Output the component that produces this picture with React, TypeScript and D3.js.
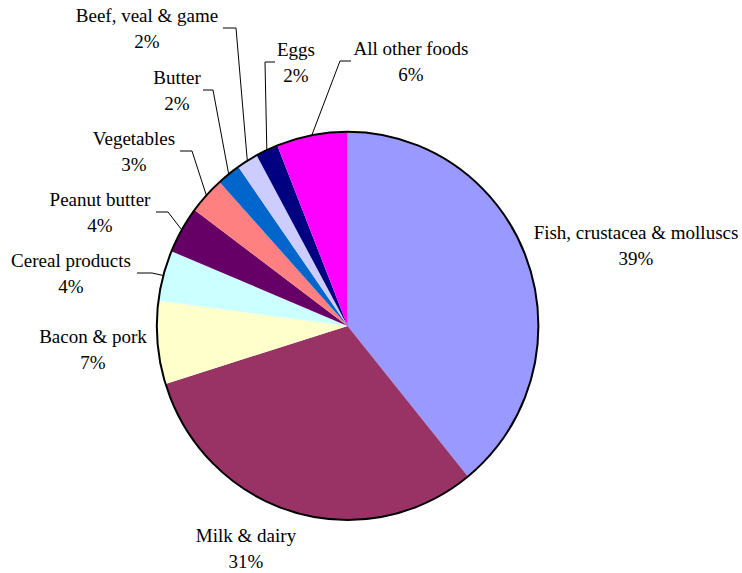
import React, { useEffect, useRef } from "react";
import * as d3 from "d3";

const categories = [
  "Fish, crustacea & molluscs",
  "Milk & dairy",
  "Bacon & pork",
  "Cereal products",
  "Peanut butter",
  "Vegetables",
  "Butter",
  "Beef, veal & game",
  "Eggs",
  "All other foods",
];
const values = [39.1, 31.0, 6.9, 4.2, 3.9, 3.1, 2.0, 1.8, 1.9, 6.0];
const colors = [
  "#9999FF",
  "#993366",
  "#FFFFCC",
  "#CCFFFF",
  "#660066",
  "#FF8080",
  "#0066CC",
  "#CCCCFF",
  "#000080",
  "#FF00FF",
];

// label layout: center x, first-line baseline y, leader horizontal start x and elbow x (null = no leader)
const labelLayout: { x: number; y: number; hx: number | null; ex: number | null }[] = [
  { x: 636, y: 239, hx: null, ex: null },
  { x: 246, y: 542, hx: null, ex: null },
  { x: 93, y: 343, hx: null, ex: null },
  { x: 71, y: 267, hx: 137, ex: 152 },
  { x: 100, y: 206, hx: 156, ex: 168 },
  { x: 134, y: 145, hx: 180, ex: 192 },
  { x: 177, y: 84, hx: 203, ex: 213 },
  { x: 147, y: 22, hx: 223, ex: 236 },
  { x: 296, y: 56, hx: 275, ex: 265 },
  { x: 411, y: 55, hx: 351, ex: 340 },
];

const W = 742;
const H = 573;
const cx = 347.6;
const cy = 325.9;
const rx = 190.8;
const ry = 194.1;

export default function App() {
  const ref = useRef<SVGSVGElement | null>(null);

  useEffect(() => {
    const svg = d3.select(ref.current);
    svg.selectAll("*").remove();
    const total = d3.sum(values);
    const pie = d3
      .pie<number>()
      .sort(null)
      .value((d) => d)
      .startAngle(0)
      .endAngle(2 * Math.PI);
    const arcs = pie(values);
    const arc = d3.arc<d3.PieArcDatum<number>>().innerRadius(0).outerRadius(rx);

    svg
      .append("g")
      .attr("transform", `translate(${cx},${cy}) scale(1,${ry / rx})`)
      .selectAll("path")
      .data(arcs)
      .join("path")
      .attr("d", (d) => arc(d) || "")
      .attr("fill", (_, i) => colors[i]);

    svg
      .append("ellipse")
      .attr("cx", cx)
      .attr("cy", cy)
      .attr("rx", rx)
      .attr("ry", ry)
      .attr("fill", "none")
      .attr("stroke", "#000")
      .attr("stroke-width", 2);

    const lineGen = d3.line();
    arcs.forEach((a, i) => {
      const L = labelLayout[i];
      if (L.hx === null || L.ex === null) return;
      const mid = (a.startAngle + a.endAngle) / 2;
      const px = cx + rx * Math.sin(mid);
      const py = cy - ry * Math.cos(mid);
      const ly = L.y + 6;
      svg
        .append("path")
        .attr(
          "d",
          lineGen([
            [L.hx, ly],
            [L.ex, ly],
            [px, py],
          ]) || ""
        )
        .attr("fill", "none")
        .attr("stroke", "#000")
        .attr("stroke-width", 1);
    });

    categories.forEach((c, i) => {
      const L = labelLayout[i];
      const pct = Math.round((values[i] / total) * 100);
      [c, pct + "%"].forEach((s, k) => {
        svg
          .append("text")
          .attr("x", L.x)
          .attr("y", L.y + k * 26)
          .attr("text-anchor", "middle")
          .attr("fill", "#000")
          .style("font-family", '"Liberation Serif"')
          .style("font-size", "19px")
          .text(s);
      });
    });
  }, []);

  return (
    <svg
      ref={ref}
      width={W}
      height={H}
      style={{ position: "absolute", left: 0, top: 0, background: "#fff" }}
    />
  );
}
